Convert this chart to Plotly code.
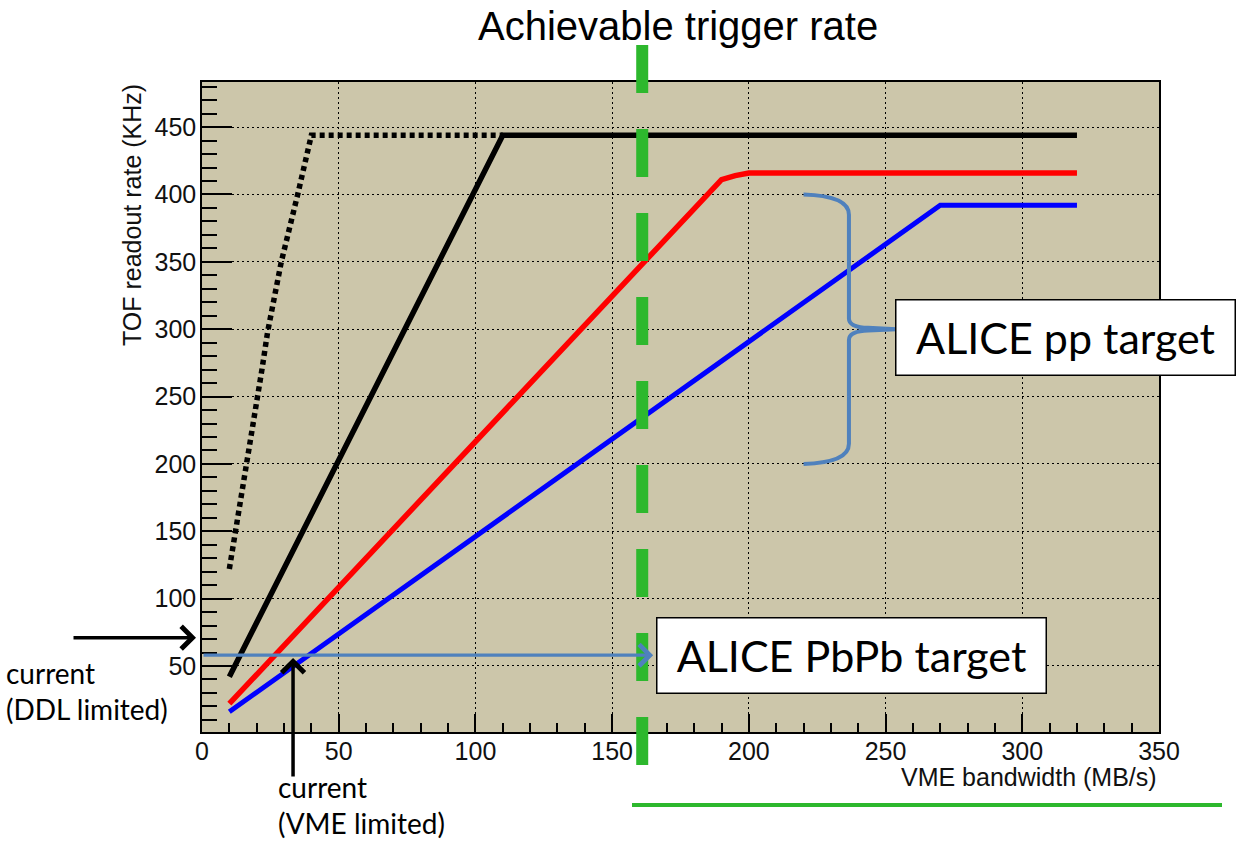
import plotly.graph_objects as go

# ---------------- data ----------------
dotted_x = [10, 12, 14, 16, 18, 20, 22, 24, 29, 35, 40, 110]
dotted_y = [122, 146, 170, 196, 221, 245, 271, 298, 350, 400, 444, 444]

black_x = [10, 110, 320]
black_y = [42, 444, 444]

red_x = [10, 190, 195, 200, 320]
red_y = [22, 411, 414, 416, 416]

blue_x = [10, 270, 320]
blue_y = [16, 392, 392]

x_ticks = [0, 50, 100, 150, 200, 250, 300, 350]
y_ticks = [50, 100, 150, 200, 250, 300, 350, 400, 450]

trigger_x = 161          # achievable trigger rate (green dashed line)
pbpb_y = 58              # ALICE PbPb target level
pp_low, pp_mid, pp_high = 200, 300, 400   # ALICE pp target range
ddl_current_y = 71
vme_current_x = 33.3

# ---------------- styling ----------------
W, H = 1239, 843
ML, MR, MT, MB = 202, 80, 82, 111
PW, PH = W - ML - MR, H - MT - MB
BG = "#CCC6AA"
GREEN = "#2DB82D"
STEEL = "#4F81BD"
ROOT_FONT = "Liberation Sans"
PPT_FONT = "Lato"


def px_x(p):
    return (p - ML) / PW


def px_y(p):
    return (H - MB - p) / PH


fig = go.Figure()
fig.add_trace(go.Scatter(x=dotted_x, y=dotted_y, mode="lines",
                         line=dict(color="black", width=5.5, dash="5px,4px"),
                         showlegend=False, hoverinfo="skip"))
fig.add_trace(go.Scatter(x=black_x, y=black_y, mode="lines",
                         line=dict(color="black", width=5.5),
                         showlegend=False, hoverinfo="skip"))
fig.add_trace(go.Scatter(x=red_x, y=red_y, mode="lines",
                         line=dict(color="#FF0000", width=5.5),
                         showlegend=False, hoverinfo="skip"))
fig.add_trace(go.Scatter(x=blue_x, y=blue_y, mode="lines",
                         line=dict(color="#0000FF", width=5),
                         showlegend=False, hoverinfo="skip"))

shapes = []
# green dashed "achievable trigger rate" line
shapes.append(dict(type="line", xref="x", yref="paper",
                   x0=trigger_x, x1=trigger_x, y0=px_y(45), y1=px_y(765),
                   line=dict(color=GREEN, width=12, dash="48px,36px"), layer="above"))
# green horizontal line at bottom
shapes.append(dict(type="line", xref="paper", yref="paper",
                   x0=px_x(632), x1=px_x(1222), y0=px_y(805), y1=px_y(805),
                   line=dict(color=GREEN, width=4), layer="above"))
# curly brace for pp target
bx0, bx1, btip = 220, 236.6, 254
brace = (f"M {bx0},{pp_high} Q {bx1},{pp_high - 1} {bx1},{pp_high - 15} "
         f"L {bx1},{pp_mid + 8} Q {bx1},{pp_mid + 1.5} {bx1 + 7},{pp_mid + 1} L {btip},{pp_mid} "
         f"L {bx1 + 7},{pp_mid - 1} Q {bx1},{pp_mid - 1.5} {bx1},{pp_mid - 8} "
         f"L {bx1},{pp_low + 15} Q {bx1},{pp_low + 1} {bx0},{pp_low}")
shapes.append(dict(type="path", xref="x", yref="y", path=brace,
                   line=dict(color=STEEL, width=4), layer="above"))

annotations = []
# main title
annotations.append(dict(text="Achievable trigger rate", xref="paper", yref="paper",
                        x=px_x(678), y=px_y(26), xanchor="center", yanchor="middle",
                        showarrow=False, font=dict(family=ROOT_FONT, size=40, color="black")))
# axis titles (ROOT style, flush to the end of the axes)
annotations.append(dict(text="VME bandwidth (MB/s)", xref="paper", yref="paper",
                        x=1.0, y=px_y(777), xanchor="right", yanchor="middle",
                        showarrow=False, font=dict(family=ROOT_FONT, size=25, color="#111")))
annotations.append(dict(text="TOF readout rate (KHz)", xref="paper", yref="paper",
                        x=px_x(132), y=1.0, xanchor="center", yanchor="top", textangle=-90,
                        showarrow=False, font=dict(family=ROOT_FONT, size=25, color="#111")))
# PbPb arrow
annotations.append(dict(text="", xref="x", yref="y", x=165, y=pbpb_y,
                        axref="x", ayref="y", ax=0, ay=pbpb_y, showarrow=True,
                        arrowhead=4, arrowsize=1.3, arrowwidth=3.2, arrowcolor=STEEL, standoff=0))
# text boxes
annotations.append(dict(text="ALICE PbPb target", xref="x", yref="y",
                        x=237.6, y=pbpb_y, xanchor="center", yanchor="middle",
                        showarrow=False, width=388, height=74, bgcolor="white",
                        bordercolor="black", borderwidth=1.5, borderpad=0,
                        font=dict(family=PPT_FONT, size=43, color="black")))
annotations.append(dict(text="ALICE pp target", xref="x", yref="y",
                        x=315.8, y=294, xanchor="center", yanchor="middle",
                        showarrow=False, width=338, height=74, bgcolor="white",
                        bordercolor="black", borderwidth=1.5, borderpad=0,
                        font=dict(family=PPT_FONT, size=43, color="black")))
# DDL limited arrow + text
annotations.append(dict(text="", xref="paper", yref="y", x=px_x(196), y=ddl_current_y,
                        ax=-124, ay=0, showarrow=True, arrowhead=4, arrowsize=1.25,
                        arrowwidth=3.5, arrowcolor="black", standoff=0))
annotations.append(dict(text="current<br>(DDL limited)", xref="paper", yref="paper",
                        x=px_x(4), y=px_y(691), xanchor="left", yanchor="middle", align="left",
                        showarrow=False,
                        font=dict(family=PPT_FONT, size=28, color="black", lineposition="none")))
# VME limited arrow + text
annotations.append(dict(text="", xref="x", yref="y", x=vme_current_x, y=56,
                        ax=0, ay=120, showarrow=True, arrowhead=4, arrowsize=1.25,
                        arrowwidth=3.5, arrowcolor="black", standoff=0))
annotations.append(dict(text="current<br>(VME limited)", xref="paper", yref="paper",
                        x=px_x(276), y=px_y(805), xanchor="left", yanchor="middle", align="left",
                        showarrow=False,
                        font=dict(family=PPT_FONT, size=28, color="black")))

axis_common = dict(showline=True, linecolor="black", linewidth=1.5, mirror=True,
                   showgrid=True, gridcolor="black", gridwidth=1, griddash="2px,3px",
                   zeroline=False, ticks="inside", tickcolor="black", tickwidth=1.5,
                   tickfont=dict(family=ROOT_FONT, size=25, color="#111"))

fig.update_layout(
    width=W, height=H,
    margin=dict(l=ML, r=MR, t=MT, b=MB, pad=0),
    paper_bgcolor="white", plot_bgcolor=BG,
    xaxis=dict(range=[0, 350], tickmode="array", tickvals=x_ticks,
               ticktext=[str(v) for v in x_ticks], ticklen=18,
               ticklabelstandoff=-4,
               minor=dict(dtick=10, ticks="inside", ticklen=9, tickcolor="black",
                          tickwidth=1.5, showgrid=False),
               **axis_common),
    yaxis=dict(range=[1, 483.5], tickmode="array", tickvals=y_ticks,
               ticktext=[str(v) for v in y_ticks], ticklen=30,
               ticklabelstandoff=-1,
               minor=dict(dtick=10, ticks="inside", ticklen=15, tickcolor="black",
                          tickwidth=1.5, showgrid=False),
               **axis_common),
    shapes=shapes,
    annotations=annotations,
    showlegend=False,
)

fig.write_html("out.html", config={"displayModeBar": False},
               post_script="document.body.style.margin='0';document.body.style.overflow='hidden';")
